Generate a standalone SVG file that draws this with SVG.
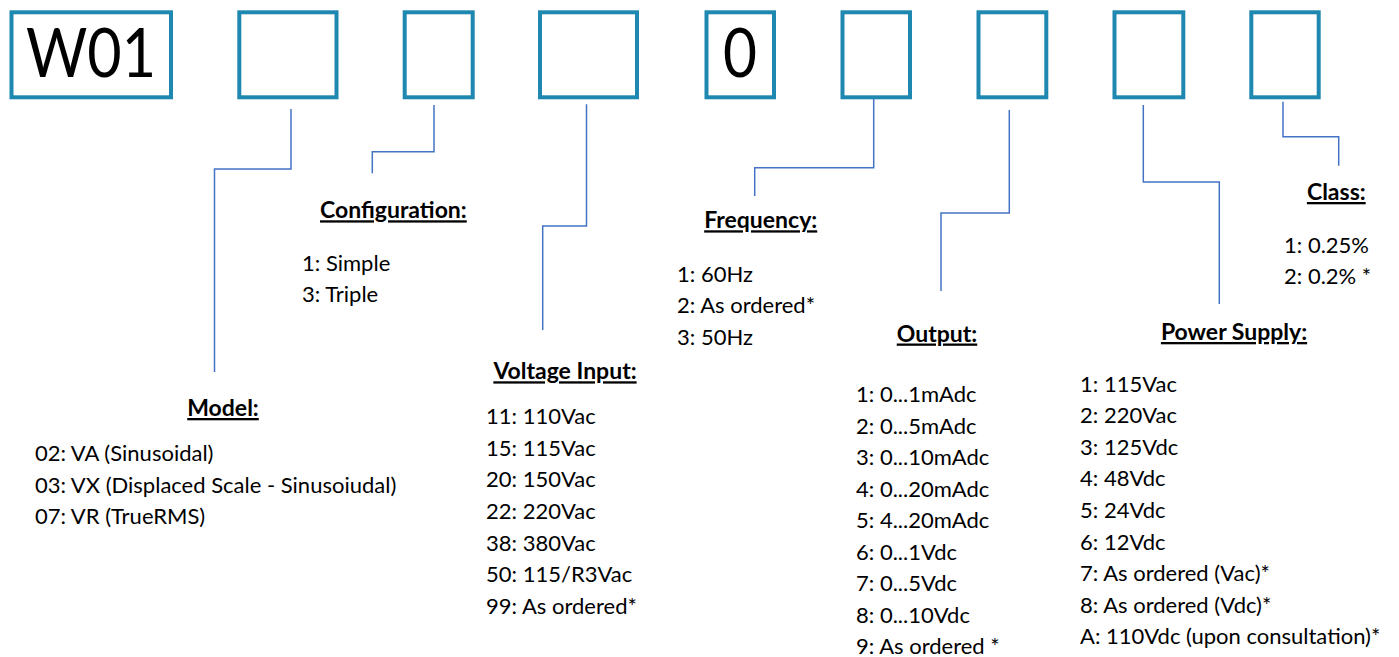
<svg xmlns="http://www.w3.org/2000/svg" width="1399" height="657" viewBox="0 0 1399 657">
<style>
.box{fill:#fff;stroke:#1f88b0;stroke-width:4}
.big{font-family:Lato,"Liberation Sans",sans-serif;font-size:68px;fill:#000}
.conn{fill:none;stroke:#4472c4;stroke-width:1.5}
.h{font-family:Lato,"Liberation Sans",sans-serif;font-size:23px;font-weight:bold;fill:#000;text-anchor:middle;text-decoration:underline}
.t{font-family:Lato,"Liberation Sans",sans-serif;font-size:22px;fill:#000}
</style>
<rect width="1399" height="657" fill="#fff"/>
<g id="box-w01"><rect class="box" x="11.5" y="12.3" width="159.5" height="85"/><text class="big" x="26" y="77" textLength="130" lengthAdjust="spacingAndGlyphs">W01</text></g>
<g id="box-model"><rect class="box" x="239.3" y="12.3" width="97.2" height="85"/></g>
<g id="box-config"><rect class="box" x="404.7" y="12.3" width="68" height="85"/></g>
<g id="box-voltage"><rect class="box" x="540" y="12.3" width="97" height="85"/></g>
<g id="box-zero"><rect class="box" x="706.5" y="12.3" width="67.5" height="85"/><text class="big" x="723" y="77" textLength="34" lengthAdjust="spacingAndGlyphs">0</text></g>
<g id="box-frequency"><rect class="box" x="842.5" y="12.3" width="67.5" height="85"/></g>
<g id="box-output"><rect class="box" x="978.5" y="12.3" width="67.8" height="85"/></g>
<g id="box-power"><rect class="box" x="1114.5" y="12.3" width="68.8" height="85"/></g>
<g id="box-class"><rect class="box" x="1251.3" y="12.3" width="67.4" height="85"/></g>
<g id="connectors">
<path class="conn" d="M291,109 V169 H214.5 V372"/>
<path class="conn" d="M434,105 V151.7 H372.3 V173.3"/>
<path class="conn" d="M586.5,104.3 V226 H542.7 V330"/>
<path class="conn" d="M873.7,99 V167.7 H754.7 V196"/>
<path class="conn" d="M1009.3,110 V213 H941 V291"/>
<path class="conn" d="M1143.3,105 V182 H1219.3 V304"/>
<path class="conn" d="M1283,101.7 V136.7 H1338.7 V165.7"/>
</g>
<g id="label-model">
<text class="h" x="223" y="416">Model:</text>
<text class="t" x="35" y="461">02: VA (Sinusoidal)</text>
<text class="t" x="35" y="492.7">03: VX (Displaced Scale - Sinusoiudal)</text>
<text class="t" x="35" y="524.3">07: VR (TrueRMS)</text>
</g>
<g id="label-config">
<text class="h" x="393.4" y="218.3">Configuration:</text>
<text class="t" x="302" y="270.7">1: Simple</text>
<text class="t" x="302" y="301.5">3: Triple</text>
</g>
<g id="label-voltage">
<text class="h" x="565" y="379.3">Voltage Input:</text>
<text class="t" x="486" y="424">11: 110Vac</text>
<text class="t" x="486" y="455.7">15: 115Vac</text>
<text class="t" x="486" y="487.3">20: 150Vac</text>
<text class="t" x="486" y="519">22: 220Vac</text>
<text class="t" x="486" y="550.7">38: 380Vac</text>
<text class="t" x="486" y="582.3">50: 115/R3Vac</text>
<text class="t" x="486" y="614">99: As ordered*</text>
</g>
<g id="label-frequency">
<text class="h" x="760.7" y="228.3">Frequency:</text>
<text class="t" x="677" y="281.5">1: 60Hz</text>
<text class="t" x="677" y="313">2: As ordered*</text>
<text class="t" x="677" y="344.5">3: 50Hz</text>
</g>
<g id="label-output">
<text class="h" x="937" y="341.5">Output:</text>
<text class="t" x="856" y="402">1: 0...1mAdc</text>
<text class="t" x="856" y="433.5">2: 0...5mAdc</text>
<text class="t" x="856" y="465">3: 0...10mAdc</text>
<text class="t" x="856" y="496.5">4: 0...20mAdc</text>
<text class="t" x="856" y="528">5: 4...20mAdc</text>
<text class="t" x="856" y="559.5">6: 0...1Vdc</text>
<text class="t" x="856" y="591">7: 0...5Vdc</text>
<text class="t" x="856" y="622.5">8: 0...10Vdc</text>
<text class="t" x="856" y="653.5">9: As ordered *</text>
</g>
<g id="label-power">
<text class="h" x="1234" y="340">Power Supply:</text>
<text class="t" x="1080" y="391.5">1: 115Vac</text>
<text class="t" x="1080" y="423.1">2: 220Vac</text>
<text class="t" x="1080" y="454.7">3: 125Vdc</text>
<text class="t" x="1080" y="486.3">4: 48Vdc</text>
<text class="t" x="1080" y="518">5: 24Vdc</text>
<text class="t" x="1080" y="549.6">6: 12Vdc</text>
<text class="t" x="1080" y="581.2">7: As ordered (Vac)*</text>
<text class="t" x="1080" y="612.8">8: As ordered (Vdc)*</text>
<text class="t" x="1080" y="644.4">A: 110Vdc (upon consultation)*</text>
</g>
<g id="label-class">
<text class="h" x="1336.3" y="200">Class:</text>
<text class="t" x="1284" y="253.3">1: 0.25%</text>
<text class="t" x="1284" y="284">2: 0.2% *</text>
</g>
</svg>
